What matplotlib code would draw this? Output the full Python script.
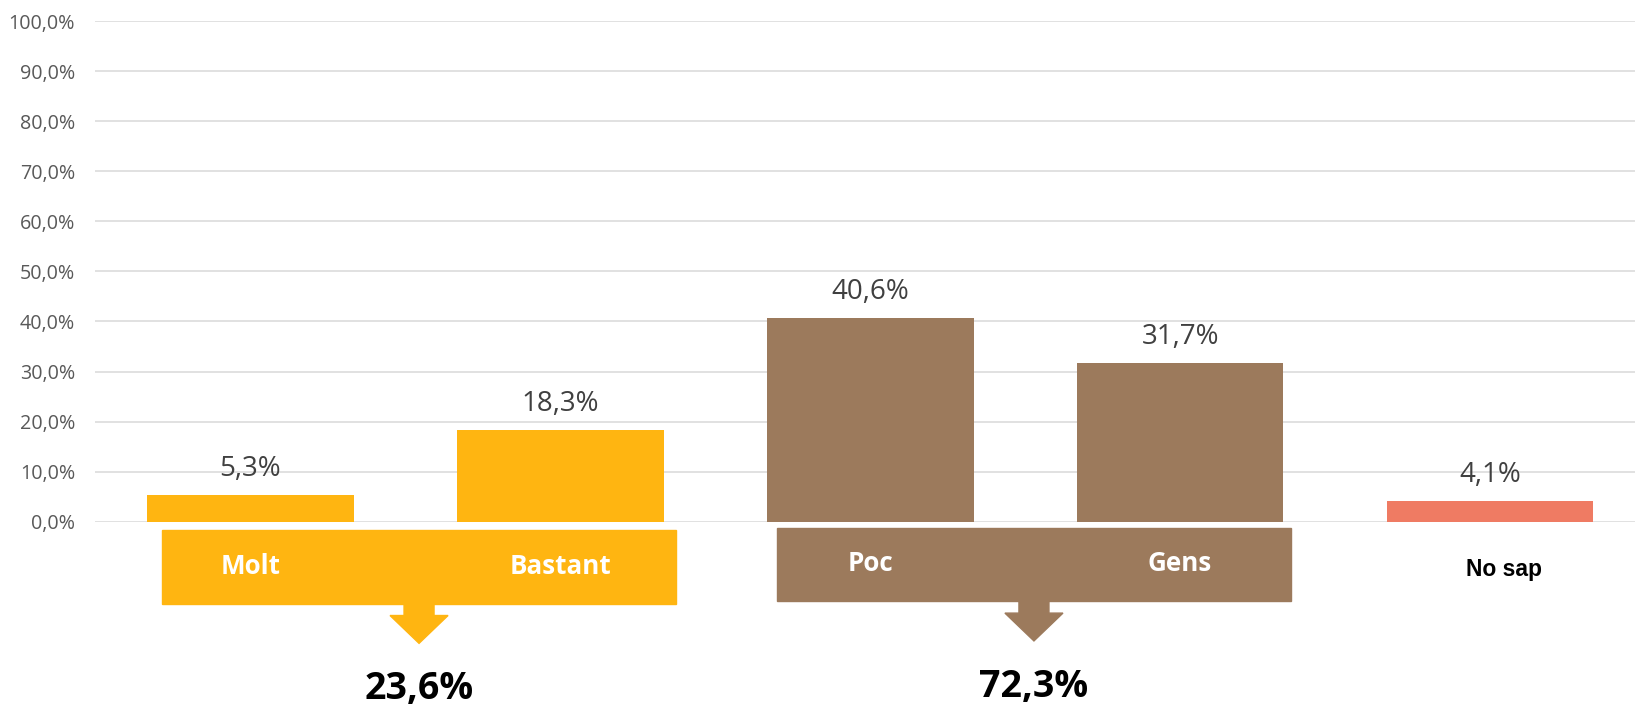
import matplotlib
matplotlib.use("Agg")
import matplotlib.pyplot as plt
import matplotlib.transforms as mtransforms
from matplotlib.patches import Rectangle, Polygon
from matplotlib.ticker import FuncFormatter, MultipleLocator

# dades
categories = ["Molt", "Bastant", "Poc", "Gens", "No sap"]
valors = [0.053, 0.183, 0.406, 0.317, 0.041]
colors = ["#FFB511", "#FFB511", "#9C7A5C", "#9C7A5C", "#EF7B63"]
grups = [(0, 1), (2, 3)]          # categories agrupades sota una caixa
colors_grups = ["#FFB511", "#9C7A5C"]


def pct(v, decimals=1):
    return f"{v*100:.{decimals}f}%".replace(".", ",")


fig = plt.figure(figsize=(16.35, 7.08), dpi=100)
ax = fig.add_axes([0.0583, 0.2631, 0.9478, 0.7072])

x = list(range(len(categories)))
ax.bar(x, valors, width=0.667, color=colors, zorder=2)

ax.set_xlim(-0.5, len(categories) - 0.5)
ax.set_ylim(0, 1)
ax.yaxis.set_major_locator(MultipleLocator(0.1))
ax.yaxis.set_major_formatter(FuncFormatter(lambda v, p: pct(v)))
ax.grid(axis="y", color="#D9D9D9", lw=1.1)
ax.set_axisbelow(True)
ax.set_xticks([])
for s in ax.spines.values():
    s.set_visible(False)
ax.tick_params(axis="y", length=0, pad=14.5, labelsize=14.2, labelcolor="#595959")
for lab in ax.get_yticklabels():
    lab.set_fontfamily("Open Sans")

# etiquetes de valor
for xi, v in zip(x, valors):
    ax.annotate(pct(v), (xi, v), xytext=(0, 14), textcoords="offset points",
                ha="center", va="baseline", fontsize=20, color="#404040",
                family="Open Sans")

# caixes dels grups amb fletxa i total (petits desplaçaments com a l'original)
tr = mtransforms.blended_transform_factory(ax.transData, ax.transAxes)
desp_x = [-0.285, -0.301]
desp_y = [0.0, 0.0048]
desp_total = [-0.0106, -0.006]
for (a, b), c, dx, dy, dt in zip(grups, colors_grups, desp_x, desp_y, desp_total):
    x0, x1 = a + dx, a + dx + 1.659
    xm = (x0 + x1) / 2
    ax.add_patch(Rectangle((x0, -0.1635 + dy), x1 - x0, 0.1465, transform=tr,
                           color=c, clip_on=False, zorder=3))
    sw, hw = 0.0484, 0.0936
    top, neck, tip = -0.163 + dy, -0.1873 + dy, -0.2429 + dy
    ax.add_patch(Polygon([(xm - sw, top), (xm + sw, top), (xm + sw, neck),
                          (xm + hw, neck), (xm, tip), (xm - hw, neck),
                          (xm - sw, neck)], closed=True, transform=tr,
                         color=c, clip_on=False, zorder=3))
    for i in range(a, b + 1):
        ax.text(i, -0.0885 + dy, categories[i], transform=tr, ha="center",
                va="center", fontsize=18.7, fontweight="bold", color="white",
                family="Open Sans", zorder=4)
    total = sum(valors[a:b + 1])
    ax.text(xm, -0.3243 + dt, pct(total), transform=tr, ha="center", va="center",
            fontsize=27, fontweight="bold", color="black", family="Open Sans")

# categoria fora de grup
agrupades = {i for a, b in grups for i in range(a, b + 1)}
for i in x:
    if i not in agrupades:
        ax.text(i + 0.045, -0.096, categories[i], transform=tr, ha="center",
                va="center", fontsize=16.5, fontweight="bold", color="black",
                family="Liberation Sans")

fig.savefig("out.png", dpi=100)
